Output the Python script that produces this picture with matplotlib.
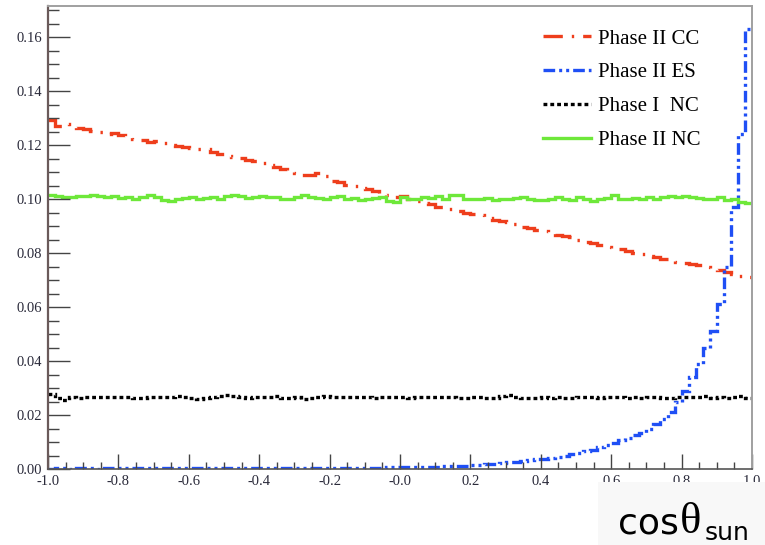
import numpy as np
import matplotlib
matplotlib.use("Agg")
import matplotlib.pyplot as plt
from matplotlib.patches import Rectangle

plt.rcParams["axes.unicode_minus"] = False

# ── Data: 100 bins in cos(theta_sun) from -1 to 1 ────────────────────────────
edges = np.linspace(-1.0, 1.0, 101)

cc_phase2 = [
    0.1292, 0.1272, 0.1278, 0.1270, 0.1265, 0.1258, 0.1254, 0.1248, 0.1240, 0.1246,
    0.1238, 0.1232, 0.1224, 0.1218, 0.1212, 0.1214, 0.1208, 0.1200, 0.1196, 0.1192,
    0.1188, 0.1186, 0.1184, 0.1176, 0.1168, 0.1160, 0.1156, 0.1152, 0.1144, 0.1140,
    0.1134, 0.1126, 0.1118, 0.1112, 0.1100, 0.1096, 0.1090, 0.1088, 0.1098, 0.1084,
    0.1068, 0.1062, 0.1052, 0.1048, 0.1040, 0.1036, 0.1030, 0.1022, 0.1016, 0.1006,
    0.1012, 0.1000, 0.0992, 0.0986, 0.0981, 0.0972, 0.0970, 0.0962, 0.0956, 0.0950,
    0.0944, 0.0940, 0.0930, 0.0922, 0.0920, 0.0914, 0.0906, 0.0896, 0.0892, 0.0884,
    0.0880, 0.0876, 0.0868, 0.0862, 0.0858, 0.0850, 0.0840, 0.0836, 0.0830, 0.0824,
    0.0820, 0.0814, 0.0806, 0.0800, 0.0796, 0.0790, 0.0784, 0.0778, 0.0772, 0.0768,
    0.0762, 0.0758, 0.0754, 0.0750, 0.0744, 0.0738, 0.0730, 0.0722, 0.0716, 0.0712,
]

es_phase2 = [
    0.0001, 0.0002, 0.0002, 0.0001, 0.0002, 0.0002, 0.0002, 0.0001, 0.0002, 0.0002,
    0.0002, 0.0002, 0.0002, 0.0002, 0.0002, 0.0002, 0.0002, 0.0002, 0.0002, 0.0002,
    0.0002, 0.0002, 0.0002, 0.0002, 0.0003, 0.0002, 0.0003, 0.0003, 0.0003, 0.0003,
    0.0003, 0.0003, 0.0003, 0.0003, 0.0003, 0.0003, 0.0004, 0.0003, 0.0004, 0.0004,
    0.0004, 0.0004, 0.0004, 0.0005, 0.0005, 0.0005, 0.0005, 0.0005, 0.0006, 0.0006,
    0.0006, 0.0007, 0.0007, 0.0008, 0.0008, 0.0009, 0.0010, 0.0011, 0.0012, 0.0013,
    0.0015, 0.0016, 0.0018, 0.0020, 0.0022, 0.0025, 0.0027, 0.0030, 0.0032, 0.0036,
    0.0038, 0.0042, 0.0046, 0.0050, 0.0055, 0.0060, 0.0066, 0.0072, 0.0080, 0.0088,
    0.0098, 0.0106, 0.0115, 0.0125, 0.0135, 0.0148, 0.0165, 0.0185, 0.0212, 0.0250,
    0.0290, 0.0340, 0.0390, 0.0450, 0.0510, 0.0610, 0.0750, 0.0970, 0.1240, 0.1630,
]

nc_phase1 = [
    0.0278, 0.0262, 0.0256, 0.0266, 0.0262, 0.0268, 0.0266, 0.0266, 0.0268, 0.0268,
    0.0266, 0.0268, 0.0264, 0.0262, 0.0266, 0.0266, 0.0268, 0.0268, 0.0270, 0.0268,
    0.0264, 0.0258, 0.0262, 0.0266, 0.0272, 0.0276, 0.0270, 0.0266, 0.0262, 0.0268,
    0.0266, 0.0268, 0.0270, 0.0264, 0.0262, 0.0266, 0.0260, 0.0264, 0.0268, 0.0270,
    0.0266, 0.0268, 0.0268, 0.0266, 0.0268, 0.0266, 0.0264, 0.0266, 0.0268, 0.0266,
    0.0266, 0.0264, 0.0266, 0.0268, 0.0266, 0.0268, 0.0266, 0.0266, 0.0262, 0.0264,
    0.0266, 0.0266, 0.0264, 0.0264, 0.0272, 0.0276, 0.0266, 0.0264, 0.0262, 0.0264,
    0.0266, 0.0264, 0.0266, 0.0262, 0.0262, 0.0266, 0.0268, 0.0266, 0.0264, 0.0266,
    0.0268, 0.0266, 0.0264, 0.0268, 0.0262, 0.0266, 0.0266, 0.0264, 0.0264, 0.0266,
    0.0268, 0.0266, 0.0268, 0.0270, 0.0264, 0.0266, 0.0264, 0.0268, 0.0270, 0.0264,
]

nc_phase2 = [
    0.1015, 0.1010, 0.1008, 0.1008, 0.1010, 0.1010, 0.1016, 0.1012, 0.1008, 0.1010,
    0.1004, 0.1006, 0.1002, 0.1008, 0.1016, 0.1006, 0.0998, 0.0992, 0.1000, 0.1004,
    0.1008, 0.1002, 0.1004, 0.1008, 0.1002, 0.1010, 0.1016, 0.1010, 0.1004, 0.1006,
    0.1012, 0.1006, 0.1006, 0.1000, 0.1002, 0.1008, 0.1014, 0.1006, 0.1004, 0.1000,
    0.1006, 0.1010, 0.1000, 0.1004, 0.0996, 0.1002, 0.1004, 0.1008, 0.0994, 0.0990,
    0.1008, 0.1000, 0.1002, 0.1006, 0.1004, 0.1010, 0.1000, 0.1014, 0.1014, 0.1002,
    0.1000, 0.1002, 0.1004, 0.0998, 0.1002, 0.1000, 0.1004, 0.1006, 0.1002, 0.0996,
    0.0998, 0.1002, 0.1006, 0.1000, 0.0996, 0.1008, 0.1000, 0.0992, 0.1000, 0.1004,
    0.1016, 0.1002, 0.1000, 0.1004, 0.1002, 0.1006, 0.1000, 0.1008, 0.1010, 0.1006,
    0.1012, 0.1006, 0.1004, 0.1002, 0.1000, 0.1006, 0.0998, 0.1000, 0.0988, 0.0984,
]

labels = ["Phase II CC", "Phase II ES", "Phase I  NC", "Phase II NC"]
colors = ["#ee3e1c", "#1f4ff5", "#000000", "#6ee83a"]

# ── Figure ───────────────────────────────────────────────────────────────────
fig = plt.figure(figsize=(7.65, 5.45), dpi=100)
ax = fig.add_axes([0.0627, 0.1394, 0.9203, 0.8495])

lw = 2.4
series = [cc_phase2, es_phase2, nc_phase1, nc_phase2]
dash_styles = [
    (0, (5.8, 2.7, 0.7, 2.7)),
    (0, (3.5, 1.2, 0.9, 1.2, 0.9, 1.2)),
    (0, (1.15, 0.9)),
    "-",
]
for vals, lab, col, ls in zip(series, labels, colors, dash_styles):
    ax.stairs(vals, edges, baseline=None, color=col, linewidth=lw,
              linestyle=ls, label=lab)

ax.set_xlim(-1.0, 1.0)
ax.set_ylim(0.0, 0.1715)

xmaj = np.arange(-1.0, 1.01, 0.2)
ymaj = np.arange(0.0, 0.161, 0.02)
ax.set_xticks(xmaj)
ax.set_xticks(np.arange(-1.0, 1.01, 0.05), minor=True)
ax.set_yticks(ymaj)
ax.set_yticks(np.arange(0.0, 0.1715, 0.005), minor=True)
ax.set_xticklabels([f"{v:.1f}" for v in xmaj])
ax.set_yticklabels([f"{v:.2f}" for v in ymaj])

for lbl in ax.get_xticklabels() + ax.get_yticklabels():
    lbl.set_family("Liberation Serif")
    lbl.set_fontsize(10.5)
    lbl.set_color("#2a2a3a")

ax.tick_params(axis="y", which="major", direction="in", length=16, width=1.0,
               color="#444444", pad=4)
ax.tick_params(axis="y", which="minor", direction="in", length=8, width=1.0,
               color="#444444")
ax.tick_params(axis="x", which="major", direction="in", length=11, width=1.0,
               color="#444444", pad=4)
ax.tick_params(axis="x", which="minor", direction="in", length=5, width=1.0,
               color="#444444")

ax.spines["left"].set_color("#6a5a5a")
ax.spines["left"].set_linewidth(1.6)
ax.spines["bottom"].set_color("#555555")
ax.spines["bottom"].set_linewidth(1.2)
for s in ("top", "right"):
    ax.spines[s].set_color("#a0a0a0")
    ax.spines[s].set_linewidth(1.4)

leg = ax.legend(loc="upper left", bbox_to_anchor=(0.699, 0.962),
                bbox_transform=fig.transFigure, frameon=False,
                borderaxespad=0.0,
                prop={"family": "Liberation Serif", "size": 15},
                handlelength=2.3, handletextpad=0.35, labelspacing=0.68)

# axis title box, bottom right
fig.add_artist(Rectangle((598 / 765, 0.0), 167 / 765, 63 / 545,
                         transform=fig.transFigure, facecolor="#f8f8f8",
                         edgecolor="none", zorder=10))
fig.text(618 / 765, 1 - 533 / 545, "cos", fontsize=26, family="DejaVu Sans",
         va="baseline", ha="left", zorder=11)
fig.text(680 / 765, 1 - 533 / 545, "θ", fontsize=32, family="Liberation Serif",
         va="baseline", ha="left", zorder=11)
fig.text(705 / 765, 1 - 540 / 545, "sun", fontsize=18, family="DejaVu Sans",
         va="baseline", ha="left", zorder=11)

fig.savefig("out.png", dpi=100)
